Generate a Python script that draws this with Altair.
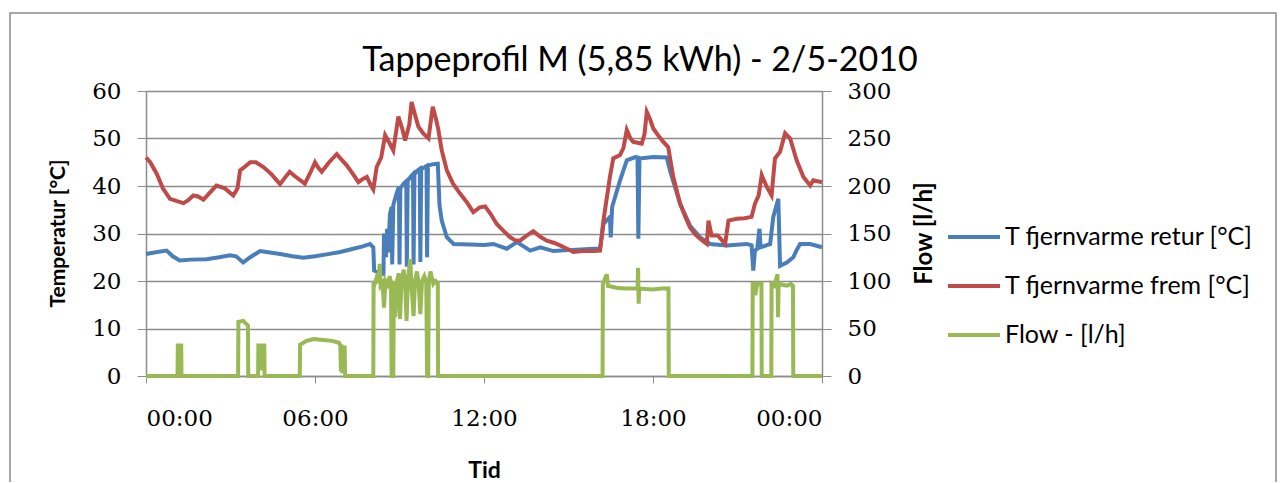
import altair as alt
import pandas as pd

# ---------------- data (hours since midnight) ----------------
retur_t = [0.0, 0.4, 0.73, 0.95, 1.2, 1.6, 2.15, 2.6, 2.98, 3.2, 3.45, 3.7, 4.05, 4.4, 4.76,
           5.2, 5.59, 6.0, 6.41, 6.9, 7.36, 7.7, 7.95, 8.07, 8.1, 8.43, 8.45, 8.52, 8.56, 8.6,
           8.66, 8.72, 8.74, 8.78, 8.9, 8.98, 9.0, 9.03, 9.15, 9.24, 9.26, 9.29, 9.4, 9.48,
           9.5, 9.53, 9.65, 9.72, 9.74, 9.77, 9.9, 9.96, 9.98, 10.01, 10.2, 10.36, 10.42,
           10.5, 10.68, 10.92, 11.5, 12.0, 12.33, 12.81, 13.17, 13.64, 14.0, 14.46, 15.0,
           15.88, 16.12, 16.24, 16.47, 16.5, 16.55, 16.83, 17.07, 17.37, 17.45, 17.48, 17.52,
           18.01, 18.49, 18.6, 18.96, 19.31, 19.67, 20.03, 20.62, 21.33, 21.5, 21.56, 21.62,
           21.7, 21.78, 21.82, 22.16, 22.27, 22.45, 22.51, 22.75, 22.98, 23.1, 23.22, 23.58, 24.0]
retur_v = [25.7, 26.1, 26.4, 25.2, 24.3, 24.5, 24.6, 25.0, 25.4, 25.2, 23.9, 25.0, 26.3, 26.0, 25.7,
           25.2, 24.9, 25.2, 25.6, 26.1, 26.8, 27.3, 27.8, 27.1, 22.2, 21.5, 30.0, 25.0, 31.0, 26.0,
           34.0, 35.6, 23.5, 36.0, 38.5, 39.8, 23.5, 39.5, 40.5, 41.0, 23.0, 41.0, 42.0, 42.5,
           23.5, 42.5, 43.3, 43.6, 24.0, 43.6, 44.0, 44.2, 25.0, 44.3, 44.6, 44.7, 36.0,
           32.7, 29.2, 27.8, 27.7, 27.6, 27.8, 26.8, 28.2, 26.4, 27.1, 26.3, 26.5,
           26.8, 26.8, 32.0, 33.5, 29.2, 35.6, 41.2, 45.4, 46.1, 46.0, 28.9, 45.8,
           46.1, 46.0, 43.3, 36.3, 31.7, 29.2, 27.8, 27.5, 27.8, 27.5, 22.2, 26.4,
           26.8, 31.0, 27.1, 27.8, 33.5, 37.3, 23.2, 23.9, 25.0, 26.5, 27.8, 27.8, 27.1]

frem_t = [0.0, 0.15, 0.38, 0.6, 0.85, 1.1, 1.33, 1.5, 1.68, 1.85, 2.04, 2.25, 2.5, 2.8, 3.1,
          3.25, 3.34, 3.5, 3.7, 3.9, 4.17, 4.45, 4.76, 4.9, 5.1, 5.3, 5.64, 5.85, 6.0, 6.1,
          6.24, 6.5, 6.77, 6.95, 7.12, 7.35, 7.54, 7.7, 7.84, 7.95, 8.07, 8.19, 8.35, 8.49,
          8.65, 8.78, 8.96, 9.1, 9.2, 9.35, 9.43, 9.55, 9.67, 9.85, 10.03, 10.18, 10.3, 10.38,
          10.5, 10.68, 10.9, 11.15, 11.4, 11.62, 11.85, 12.04, 12.25, 12.45, 12.7, 12.93,
          13.1, 13.28, 13.5, 13.75, 14.0, 14.23, 14.5, 14.7, 14.95, 15.17, 15.5, 15.88, 16.12,
          16.24, 16.47, 16.59, 16.83, 16.95, 17.07, 17.2, 17.3, 17.6, 17.7, 17.78, 17.9, 18.01,
          18.2, 18.37, 18.54, 18.72, 18.96, 19.15, 19.31, 19.5, 19.67, 19.91, 19.97, 20.08,
          20.3, 20.56, 20.68, 20.97, 21.25, 21.5, 21.62, 21.75, 21.86, 22.04, 22.21, 22.33,
          22.51, 22.69, 22.87, 23.1, 23.34, 23.58, 23.69, 24.0]
frem_v = [46.0, 45.0, 42.6, 39.5, 37.3, 36.8, 36.4, 37.0, 38.0, 37.8, 37.1, 38.5, 40.1, 39.5, 38.0,
          39.5, 43.3, 44.0, 45.0, 45.0, 44.0, 42.5, 40.4, 41.5, 43.0, 42.0, 40.5, 43.0, 45.0, 44.0,
          43.0, 45.0, 46.7, 45.5, 44.4, 42.5, 40.8, 41.5, 41.9, 40.5, 39.3, 44.0, 46.0, 50.7,
          49.0, 47.5, 54.6, 52.0, 49.6, 53.0, 57.7, 55.0, 52.5, 51.0, 50.0, 56.7, 54.0, 51.8,
          47.5, 43.3, 40.5, 38.4, 36.5, 34.5, 35.5, 35.7, 34.0, 32.0, 30.5, 29.2,
          28.6, 28.5, 29.5, 30.5, 29.3, 28.5, 28.0, 27.5, 26.8, 26.1, 26.3, 26.3, 26.4,
          32.7, 41.9, 45.8, 46.5, 48.0, 51.8, 50.0, 49.3, 48.9, 51.0, 55.6, 54.0, 52.1,
          50.5, 49.3, 48.2, 41.9, 36.3, 33.5, 31.3, 29.8, 28.9, 27.8, 32.7, 29.6,
          29.6, 27.8, 32.7, 33.1, 33.2, 33.5, 36.3, 38.0, 42.3, 39.8, 38.0, 45.8,
          47.2, 51.1, 50.0, 45.4, 41.9, 40.1, 41.2, 40.8]

flow_t = [0.0, 1.12, 1.13, 1.25, 1.26, 3.27, 3.28, 3.45, 3.62, 3.63, 3.98, 3.99, 4.05, 4.06,
          4.12, 4.13, 4.2, 4.21, 5.46, 5.47, 5.7, 5.95, 6.3, 6.6, 6.85, 6.9, 6.92, 6.94, 6.97,
          7.0, 7.03, 7.05, 7.07, 8.07, 8.08, 8.12, 8.18, 8.25, 8.3, 8.33, 8.4, 8.45, 8.5, 8.58,
          8.65, 8.7, 8.72, 8.78, 8.8, 8.85, 8.9, 8.97, 9.02, 9.07, 9.15, 9.2, 9.25, 9.3, 9.38,
          9.42, 9.5, 9.55, 9.62, 9.68, 9.74, 9.8, 9.88, 9.95, 9.98, 10.02, 10.04, 10.1, 10.2,
          10.28, 10.36, 10.37, 16.21, 16.22, 16.36, 16.4, 16.7, 17.0, 17.45, 17.47, 17.49,
          17.51, 18.0, 18.3, 18.55, 18.56, 21.53, 21.54, 21.62, 21.63, 21.7, 21.85, 21.86,
          22.2, 22.21, 22.3, 22.42, 22.44, 22.46, 22.6, 22.75, 22.9, 22.97, 22.98, 24.0]
flow_v = [0, 0, 32, 32, 0, 0, 57, 58, 53, 0, 0, 32, 32, 8,
          8, 32, 32, 0, 0, 33, 37, 39, 38, 37, 35, 32, 5, 33, 3,
          32, 5, 32, 0, 0, 100, 97, 103, 98, 118, 95, 98, 72, 100, 96,
          105, 98, 0, 0, 100, 62, 98, 108, 60, 100, 112, 97, 58, 100, 123,
          98, 63, 100, 110, 97, 65, 100, 105, 98, 0, 0, 100, 110, 97,
          100, 98, 0, 0, 97, 107, 95, 93, 92, 92, 114, 76,
          92, 91, 92, 92, 0, 0, 97, 97, 85, 97, 97, 0,
          0, 97, 95, 107, 62, 97, 96, 95, 97, 95, 0, 0]

series_names = ["T fjernvarme retur [°C]", "T fjernvarme frem [°C]", "Flow - [l/h]"]
series_colors = ["#4A7EBB", "#BE4B48", "#98B954"]

x_ticks = [0, 6, 12, 18, 24]
temp_ticks = [0, 10, 20, 30, 40, 50, 60]
flow_ticks = [0, 50, 100, 150, 200, 250, 300]

# ---------------- build table ----------------
rows = []
for name, ts, vs in [(series_names[0], retur_t, retur_v),
                     (series_names[1], frem_t, frem_v),
                     (series_names[2], flow_t, flow_v)]:
    for i, (t, v) in enumerate(zip(ts, vs)):
        rows.append({"t": t, "v": v, "series": name, "i": i})
df = pd.DataFrame(rows)

FONT = "Lato"
NUMFONT = "DejaVu Serif"
GRID = "#8C8C8C"
LW = 4

color = alt.Color(
    "series:N",
    scale=alt.Scale(domain=series_names, range=series_colors),
    legend=alt.Legend(
        title=None, orient="none", legendX=800, legendY=118,
        symbolType="stroke", symbolSize=2704, symbolStrokeWidth=4,
        labelFont=FONT, labelFontSize=25, labelColor="black",
        labelOffset=3, rowPadding=8, labelLimit=400,
    ),
)

x_enc = alt.X(
    "t:Q",
    scale=alt.Scale(domain=[0, 24], nice=False),
    axis=alt.Axis(
        values=x_ticks, grid=False, title="Tid",
        labelExpr="(datum.value % 24 < 10 ? '0' : '') + (datum.value % 24) + ':00'",
        labelFont=NUMFONT, labelFontSize=23, labelColor="black", labelPadding=24,
        tickSize=7, tickColor=GRID, domainColor=GRID, domainWidth=1.5,
        titleFont=FONT, titleFontSize=23, titleFontWeight="bold", titleColor="black",
        titleY=101, titleBaseline="alphabetic",
    ),
)

base = alt.Chart(df)

temp_axis = alt.Axis(
    values=temp_ticks, title="Temperatur [°C]", grid=True, gridColor=GRID, gridWidth=1.5,
    labelFont=NUMFONT, labelFontSize=23, labelColor="black", labelPadding=16,
    tickSize=9, tickColor=GRID, domainColor=GRID, domainWidth=1.5,
    titleFont=FONT, titleFontSize=21, titleFontWeight="bold", titleColor="black",
    titleAngle=-90, titleX=-88, titleY=142, titleAlign="center", titleBaseline="middle",
)
temp_y = alt.Y("v:Q", scale=alt.Scale(domain=[0, 60], nice=False), axis=temp_axis)

retur = base.transform_filter(alt.datum.series == series_names[0]).mark_line(
    strokeWidth=LW).encode(x=x_enc, y=temp_y, color=color, order="i:Q")
frem = base.transform_filter(alt.datum.series == series_names[1]).mark_line(
    strokeWidth=LW).encode(x=x_enc, y=temp_y, color=color, order="i:Q")

flow_axis = alt.Axis(
    values=flow_ticks, title="Flow [l/h]", grid=False, orient="right",
    labelFont=NUMFONT, labelFontSize=23, labelColor="black", labelPadding=16,
    tickSize=9, tickColor=GRID, domainColor=GRID, domainWidth=1.5,
    titleFont=FONT, titleFontSize=24, titleFontWeight="bold", titleColor="black",
    titleAngle=-90, titleX=102, titleY=142, titleAlign="center", titleBaseline="middle",
)
flow = base.transform_filter(alt.datum.series == series_names[2]).mark_line(
    strokeWidth=LW).encode(
    x=x_enc,
    y=alt.Y("v:Q", scale=alt.Scale(domain=[0, 300], nice=False), axis=flow_axis),
    color=color, order="i:Q")

frame = alt.Chart(pd.DataFrame({"k": [0]})).mark_rect(
    fill="transparent", stroke="#8A8A8A", strokeWidth=1.5).encode(
    x=alt.value(-136), x2=alt.value(1130), y=alt.value(-78), y2=alt.value(420))

chart = alt.layer(
    alt.layer(retur, frem),
    flow,
).resolve_scale(y="independent")

chart = alt.layer(chart, frame).properties(
    width=676, height=285,
    padding={"left": 138, "top": 83, "right": 456, "bottom": 106},
    autosize=alt.AutoSizeParams(type="none"),
    title=alt.Title(
        "Tappeprofil M (5,85 kWh) - 2/5-2010", font=FONT, fontSize=34,
        fontWeight="normal", color="black", anchor="middle", dx=156, dy=80, offset=14,
    ),
).configure_view(stroke=None).configure(background="white")

chart.save("out.html", embed_options={"renderer": "svg", "actions": False})
